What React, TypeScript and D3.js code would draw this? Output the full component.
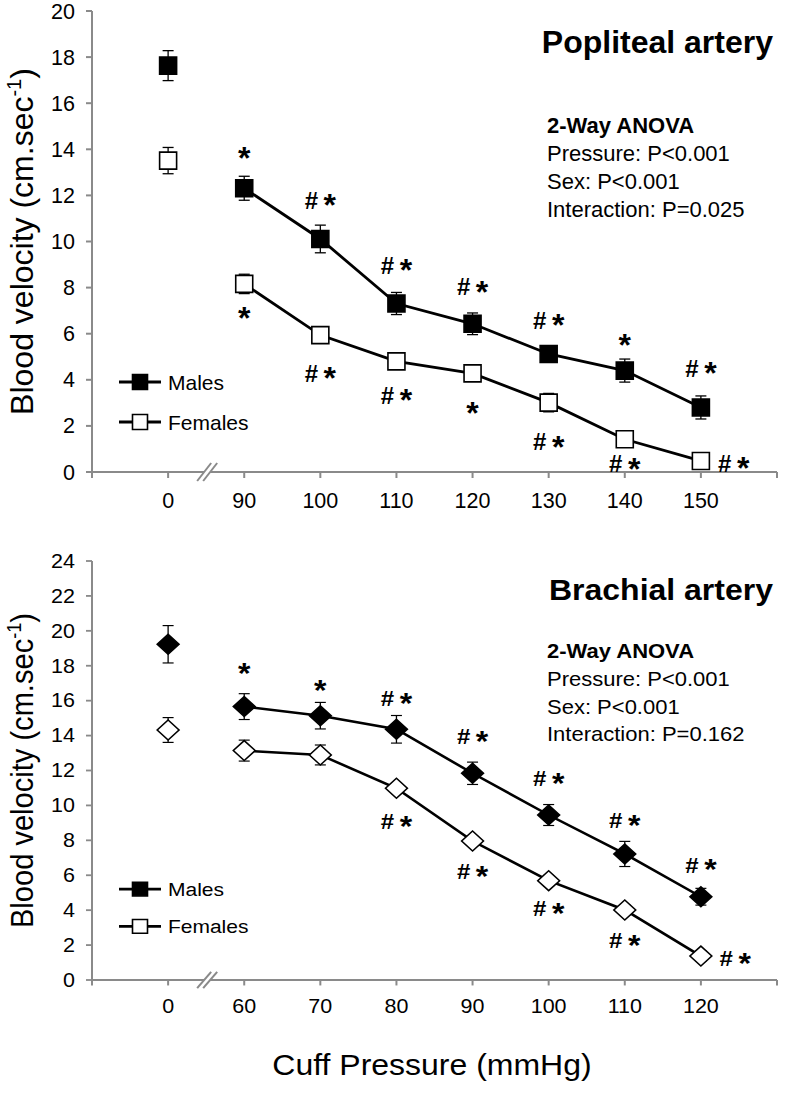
import React from "react";
import * as d3 from "d3";

// ---------- Data ----------
const popCategories = ["0", "90", "100", "110", "120", "130", "140", "150"];
const popMales = [17.63, 12.31, 10.11, 7.31, 6.43, 5.12, 4.4, 2.8];
const popMalesErr = [0.65, 0.52, 0.6, 0.48, 0.47, 0.32, 0.5, 0.5];
const popFemales = [13.51, 8.16, 5.94, 4.8, 4.28, 3.01, 1.42, 0.48];
const popFemalesErr = [0.57, 0.42, 0.2, 0.2, 0.2, 0.4, 0.15, 0.15];
const popYTicks = [0, 2, 4, 6, 8, 10, 12, 14, 16, 18, 20];
// significance marks: category position, level (cm/s), text
const popAnnotPos = [1, 2, 3, 4, 5, 6, 7, 1, 2, 3, 4, 5, 6, 7.43];
const popAnnotVal = [13.82, 11.8, 8.98, 8.04, 6.59, 5.73, 4.5, 6.88, 4.28, 3.34, 2.76, 1.32, 0.35, 0.38];
const popAnnotText = ["*", "#*", "#*", "#*", "#*", "*", "#*", "*", "#*", "#*", "*", "#*", "#*", "#*"];
const popAnova = ["2-Way ANOVA", "Pressure: P<0.001", "Sex: P<0.001", "Interaction: P=0.025"];

const braCategories = ["0", "60", "70", "80", "90", "100", "110", "120"];
const braMales = [19.23, 15.66, 15.14, 14.36, 11.84, 9.45, 7.22, 4.77];
const braMalesErr = [1.07, 0.74, 0.76, 0.79, 0.64, 0.6, 0.72, 0.48];
const braFemales = [14.32, 13.14, 12.89, 10.98, 7.96, 5.69, 4.01, 1.37];
const braFemalesErr = [0.71, 0.6, 0.57, 0.3, 0.3, 0.3, 0.3, 0.3];
const braYTicks = [0, 2, 4, 6, 8, 10, 12, 14, 16, 18, 20, 22, 24];
const braAnnotPos = [1, 2, 3, 4, 5, 6, 7, 3, 4, 5, 6, 7.45];
const braAnnotVal = [17.85, 16.86, 16.13, 13.94, 11.55, 9.16, 6.59, 9.07, 6.2, 4.1, 2.29, 1.24];
const braAnnotText = ["*", "*", "#*", "#*", "#*", "#*", "#*", "#*", "#*", "#*", "#*", "#*"];
const braAnova = ["2-Way ANOVA", "Pressure: P<0.001", "Sex: P<0.001", "Interaction: P=0.162"];

const legendLabels = ["Males", "Females"];
const xTitle = "Cuff Pressure (mmHg)";

const FONT = "'Liberation Sans', Arial, Helvetica, sans-serif";
const AXIS = "#8a8a8a";

function Annotation({ x, y, text }) {
  // y = vertical centre of the glyphs
  const hashBase = y + 8.5;
  const starBase = y + 16;
  if (text === "*") {
    return (
      <text x={x} y={starBase} fontSize={32} fontWeight="bold" textAnchor="middle" fontFamily={FONT}>*</text>
    );
  }
  return (
    <g>
      <text x={x - 9} y={hashBase} fontSize={24} fontWeight="bold" textAnchor="middle" fontFamily={FONT}>#</text>
      <text x={x + 9.5} y={starBase} fontSize={32} fontWeight="bold" textAnchor="middle" fontFamily={FONT}>*</text>
    </g>
  );
}

function Panel(props) {
  const {
    yMax, yTicks, cats, males, malesErr, females, femalesErr,
    annotPos, annotVal, annotText, title, titleY, anova, anovaY, anovaStep, legendY, shape,
  } = props;
  const yTop = 11;
  const yBottom = 472;

  const x = d3.scaleLinear().domain([-1, 8]).range([92, 777]);
  const y = d3.scaleLinear().domain([0, yMax]).range([yBottom, yTop]);
  const xTicks = d3.range(-1, 9);

  const idx = d3.range(1, cats.length);
  const maleLine = d3.line<number>().x((i) => x(i)).y((i) => y(males[i]))(idx);
  const femaleLine = d3.line<number>().x((i) => x(i)).y((i) => y(females[i]))(idx);

  const sqPath = d3.symbol(d3.symbolSquare, 17 * 17)();
  const diaPath = d3.symbol(d3.symbolSquare, 15.5 * 15.5)();
  const legPath = d3.symbol(d3.symbolSquare, 15 * 15)();

  const marker = (cx, cy, fill, key) =>
    shape === "square" ? (
      <path key={key} d={sqPath} transform={`translate(${cx},${cy})`} fill={fill} stroke="#000" strokeWidth={1.6} />
    ) : (
      <path key={key} d={diaPath} transform={`translate(${cx},${cy}) rotate(45)`} fill={fill} stroke="#000" strokeWidth={1.6} />
    );

  const errBar = (cx, v, e, key) => (
    <g key={key} stroke="#000" strokeWidth={1.3}>
      <line x1={cx} x2={cx} y1={y(v - e)} y2={y(v + e)} />
      <line x1={cx - 5.5} x2={cx + 5.5} y1={y(v - e)} y2={y(v - e)} />
      <line x1={cx - 5.5} x2={cx + 5.5} y1={y(v + e)} y2={y(v + e)} />
    </g>
  );

  const y0 = y(0);
  const bx = x(0.5) + 1;

  return (
    <g>
      {/* Y axis */}
      <line x1={x(-1)} x2={x(-1)} y1={y(0)} y2={y(yMax)} stroke={AXIS} strokeWidth={2} />
      {yTicks.map((t) => (
        <g key={"yt" + t}>
          <line x1={x(-1) - 6} x2={x(-1)} y1={y(t)} y2={y(t)} stroke={AXIS} strokeWidth={2} />
          <text x={75} y={y(t) + 7.5} textAnchor="end" fontSize={21.5} fontFamily={FONT}>{t}</text>
        </g>
      ))}
      {/* X axis */}
      <line x1={x(-1)} x2={x(8)} y1={y0} y2={y0} stroke={AXIS} strokeWidth={2} />
      {xTicks.map((t) => (
        <line key={"xt" + t} x1={x(t)} x2={x(t)} y1={y0} y2={y0 + 6} stroke={AXIS} strokeWidth={2} />
      ))}
      {cats.map((c, i) => (
        <text key={"xl" + i} x={x(i)} y={y0 + 36} textAnchor="middle" fontSize={21.5} fontFamily={FONT}>{c}</text>
      ))}
      {/* axis break */}
      <polygon points={`${bx - 10},${y0 + 9} ${bx + 4},${y0 - 9} ${bx + 10},${y0 - 9} ${bx - 4},${y0 + 9}`} fill="#fff" />
      <line x1={bx - 10} y1={y0 + 9} x2={bx + 4} y2={y0 - 9} stroke={AXIS} strokeWidth={2} />
      <line x1={bx - 4} y1={y0 + 9} x2={bx + 10} y2={y0 - 9} stroke={AXIS} strokeWidth={2} />

      {/* lines */}
      <path d={maleLine} fill="none" stroke="#000" strokeWidth={2.8} />
      <path d={femaleLine} fill="none" stroke="#000" strokeWidth={2.8} />

      {/* error bars */}
      {males.map((v, i) => errBar(x(i), v, malesErr[i], "me" + i))}
      {females.map((v, i) => errBar(x(i), v, femalesErr[i], "fe" + i))}

      {/* markers */}
      {females.map((v, i) => marker(x(i), y(v), "#fff", "fm" + i))}
      {males.map((v, i) => marker(x(i), y(v), "#000", "mm" + i))}

      {/* significance marks */}
      {annotPos.map((p, k) => (
        <Annotation key={"an" + k} x={x(p)} y={y(annotVal[k])} text={annotText[k]} />
      ))}

      {/* title */}
      <text x={773} y={titleY} textAnchor="end" fontSize={32} fontWeight="bold" fontFamily={FONT}>{title}</text>

      {/* ANOVA */}
      {anova.map((s, k) => (
        <text key={"av" + k} x={547} y={anovaY + k * anovaStep} fontSize={22} fontWeight={k === 0 ? "bold" : "normal"} fontFamily={FONT}>{s}</text>
      ))}

      {/* legend */}
      {legendLabels.map((lab, k) => {
        const ly = legendY[k];
        return (
          <g key={"lg" + k}>
            <line x1={119} x2={161} y1={ly} y2={ly} stroke="#000" strokeWidth={2.8} />
            <path d={legPath} transform={`translate(140,${ly})`} fill={k === 0 ? "#000" : "#fff"} stroke="#000" strokeWidth={1.6} />
            <text x={168} y={ly + 7.5} fontSize={21} fontFamily={FONT}>{lab}</text>
          </g>
        );
      })}

      {/* y label */}
      <text transform={`translate(33,${(yTop + yBottom) / 2}) rotate(-90)`} textAnchor="middle" fontSize={32} fontFamily={FONT}>
        Blood velocity (cm.sec<tspan fontSize={20} dy={-12}>-1</tspan><tspan dy={12}>)</tspan>
      </text>
    </g>
  );
}

export default function App() {
  const squash = 419 / 461;
  return (
    <svg
      width={786}
      height={1116}
      style={{ position: "absolute", left: 0, top: 0, background: "#fff" }}
      fontFamily={FONT}
    >
      <rect width={786} height={1116} fill="#fff" />
      <Panel
        yMax={20}
        yTicks={popYTicks}
        cats={popCategories}
        males={popMales}
        malesErr={popMalesErr}
        females={popFemales}
        femalesErr={popFemalesErr}
        annotPos={popAnnotPos}
        annotVal={popAnnotVal}
        annotText={popAnnotText}
        title="Popliteal artery"
        titleY={53}
        anova={popAnova}
        anovaY={133}
        anovaStep={28}
        legendY={[382, 422]}
        shape="square"
      />
      <g transform={`translate(0, ${561 - 11 * squash}) scale(1, ${squash})`}>
        <Panel
          yMax={24}
          yTicks={braYTicks}
          cats={braCategories}
          males={braMales}
          malesErr={braMalesErr}
          females={braFemales}
          femalesErr={braFemalesErr}
          annotPos={braAnnotPos}
          annotVal={braAnnotVal}
          annotText={braAnnotText}
          title="Brachial artery"
          titleY={54}
          anova={braAnova}
          anovaY={118}
          anovaStep={30.5}
          legendY={[372, 413]}
          shape="diamond"
        />
        <text x={432} y={577} textAnchor="middle" fontSize={32} fontFamily={FONT}>{xTitle}</text>
      </g>
    </svg>
  );
}
